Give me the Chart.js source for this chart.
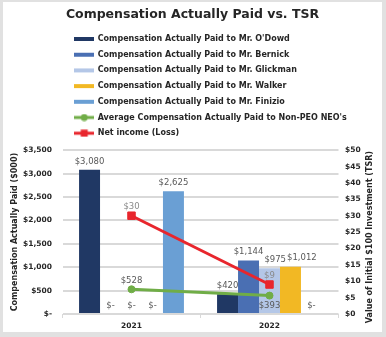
<!DOCTYPE html>
<html>
<head>
<meta charset="utf-8">
<script src="https://cdn.jsdelivr.net/npm/chart.js@4/dist/chart.umd.min.js"></script>
<style>
  html, body { margin: 0; padding: 0; background: #e1e1e1; }
  #frame { position: absolute; left: 3px; top: 2px; width: 379px; height: 330px; background: #fff; }
</style>
</head>
<body>
<div id="frame"><canvas id="cap-chart"></canvas></div>
<script>
// fiscal years on the category axis
const years = ['2021', '2022'];

// compensation actually paid, $000 (left axis)
const capODowd = [3080, 420];
const capBernick = [0, 1144];
const capGlickman = [0, 975];
const capWalker = [0, 1012];
const capFinizio = [2625, 0];
const avgNonPeo = [528, 393];

// value of initial $100 investment (right axis)
const netIncome = [30, 9];

const FONT = '"DejaVu Sans", sans-serif';
const INK = '#262626';

function money(v) {
    return v === 0 ? '$-' : '$' + v.toLocaleString('en-US');
}

// little canvas swatches used as legend markers
function swatch(ds) {
    const c = document.createElement('canvas');
    c.width = 20;
    c.height = 8;
    const g = c.getContext('2d');
    if (ds.type === 'line') {
        g.strokeStyle = ds.borderColor;
        g.fillStyle = ds.borderColor;
        g.lineWidth = 3;
        g.beginPath();
        g.moveTo(0, 4);
        g.lineTo(20, 4);
        g.stroke();
        if (ds.pointStyle === 'rect') {
            g.fillRect(6.5, 0.5, 7, 7);
        } else {
            g.beginPath();
            g.arc(10, 4, 3.5, 0, Math.PI * 2);
            g.fill();
        }
    } else {
        g.fillStyle = ds.backgroundColor;
        g.fillRect(0, 2, 20, 4);
    }
    return c;
}

// one legend entry per row, block pushed in from the left edge
const legendBlock = {
    id: 'legendBlock',
    beforeLayout(chart) {
        const lg = chart.legend;
        if (lg && !lg._rowWrap) {
            const update = lg.update.bind(lg);
            lg.update = (w, h, m) => {
                update(Math.min(w, 300), h, m);
                lg.height += 3;
            };
            lg._rowWrap = true;
        }
    },
    afterLayout(chart) {
        chart.legend.left += 64;
    }
};

// value labels over bars and line points
const valueLabels = {
    id: 'valueLabels',
    afterDatasetsDraw(chart) {
        const ctx = chart.ctx;
        ctx.save();
        ctx.font = '8.5px ' + FONT;
        ctx.textAlign = 'center';
        ctx.textBaseline = 'middle';
        const placed = [];
        chart.data.datasets.forEach((ds, i) => {
            const meta = chart.getDatasetMeta(i);
            meta.data.forEach((el, j) => {
                const text = money(ds.data[j]);
                const side = ds.labelSide ? ds.labelSide[j] : 'above';
                const y = side === 'below' ? el.y + 10 : el.y - 8.5;
                const w = ctx.measureText(text).width;
                let x = el.x;
                if (ds.type !== 'line') {
                    // push a bar label right if it runs into its neighbour
                    for (const p of placed) {
                        if (Math.abs(p.y - y) < 9 && x - w / 2 < p.right && x + w / 2 > p.left) {
                            x = p.right + w / 2 + 1;
                        }
                    }
                    placed.push({ left: x - w / 2, right: x + w / 2, y: y });
                }
                ctx.fillStyle = ds.labelColor || '#595959';
                ctx.fillText(text, x, y);
            });
        });
        ctx.restore();
    }
};

// right axis title reads bottom-to-top like the left one
const rightTitle = {
    id: 'rightTitle',
    afterDraw(chart) {
        const s = chart.scales.y2;
        const ctx = chart.ctx;
        ctx.save();
        ctx.translate(s.right - 12, (s.top + s.bottom) / 2 + 5);
        ctx.rotate(-Math.PI / 2);
        ctx.font = 'bold 8px ' + FONT;
        ctx.fillStyle = INK;
        ctx.textAlign = 'center';
        ctx.textBaseline = 'middle';
        ctx.fillText(s.options.title.text, 0, 0);
        ctx.restore();
    }
};

const bar = (label, data, color) => ({
    type: 'bar', label: label, data: data, backgroundColor: color,
    borderWidth: 0, yAxisID: 'y', order: 1
});

const datasets = [
    bar("Compensation Actually Paid to Mr. O'Dowd", capODowd, '#203864'),
    bar('Compensation Actually Paid to Mr. Bernick', capBernick, '#4a6fb3'),
    bar('Compensation Actually Paid to Mr. Glickman', capGlickman, '#b4c7e7'),
    bar('Compensation Actually Paid to Mr. Walker', capWalker, '#f2b824'),
    bar('Compensation Actually Paid to Mr. Finizio', capFinizio, '#6a9fd4'),
    {
        type: 'line', label: "Average Compensation Actually Paid to Non-PEO NEO's", data: avgNonPeo,
        borderColor: '#70ad47', backgroundColor: '#70ad47', borderWidth: 3,
        pointStyle: 'circle', pointRadius: 3.5, pointBorderWidth: 1,
        yAxisID: 'y', order: 0, labelSide: ['above', 'below']
    },
    {
        type: 'line', label: 'Net income (Loss)', data: netIncome,
        borderColor: '#e8262d', backgroundColor: '#e8262d', borderWidth: 3,
        pointStyle: 'rect', pointRadius: 5.3, pointBorderWidth: 1,
        yAxisID: 'y2', order: 0, labelColor: '#8a8a8a'
    }
];

new Chart(document.getElementById('cap-chart'), {
    type: 'bar',
    data: { labels: years, datasets: datasets },
    options: {
        responsive: true,
        maintainAspectRatio: false,
        animation: false,
        layout: { padding: 0 },
        datasets: { bar: { categoryPercentage: 0.76, barPercentage: 1 } },
        plugins: {
            title: {
                display: true,
                text: 'Compensation Actually Paid vs. TSR',
                color: INK,
                font: { family: FONT, size: 12.5, weight: 'bold' },
                padding: { top: 5.5, bottom: 4.8 }
            },
            legend: {
                position: 'top',
                align: 'start',
                labels: {
                    usePointStyle: true,
                    pointStyleWidth: 19,
                    padding: 7.7,
                    color: INK,
                    font: { family: FONT, size: 8, weight: 'bold' },
                    generateLabels: chart => chart.data.datasets.map((ds, i) => ({
                        text: ds.label,
                        pointStyle: swatch(ds),
                        fontColor: INK,
                        fillStyle: 'transparent',
                        strokeStyle: 'transparent',
                        lineWidth: 0,
                        hidden: false,
                        datasetIndex: i
                    }))
                }
            },
            tooltip: { enabled: false }
        },
        scales: {
            x: {
                grid: { display: true, drawOnChartArea: false, drawTicks: true, tickLength: 4, color: '#d9d9d9' },
                border: { display: false },
                ticks: { color: INK, font: { family: FONT, size: 7.5, weight: 'bold' }, padding: 4 },
                afterFit(s) { s.height = 18; }
            },
            y: {
                position: 'left',
                min: 0,
                max: 3500,
                ticks: {
                    stepSize: 500,
                    padding: 10.5,
                    color: INK,
                    font: { family: FONT, size: 7.5, weight: 'bold' },
                    callback: v => money(v)
                },
                grid: { color: '#d9d9d9', lineWidth: 2, drawTicks: false },
                border: { display: false },
                title: {
                    display: true,
                    text: 'Compensation Actually Paid ($000)',
                    color: INK,
                    font: { family: FONT, size: 8, weight: 'bold' },
                    padding: { top: 7.2, bottom: 0 }
                },
                afterFit(s) { s.width = 59.5; }
            },
            y2: {
                position: 'right',
                min: 0,
                max: 50,
                ticks: {
                    stepSize: 5,
                    padding: 6.5,
                    color: INK,
                    font: { family: FONT, size: 7.5, weight: 'bold' },
                    callback: v => '$' + v
                },
                grid: { drawOnChartArea: false, drawTicks: false },
                border: { display: false },
                title: { display: false, text: 'Value of Initial $100 Investment (TSR)' },
                afterFit(s) { s.width = 43.5; }
            }
        }
    },
    plugins: [legendBlock, valueLabels, rightTitle]
});
</script>
</body>
</html>
